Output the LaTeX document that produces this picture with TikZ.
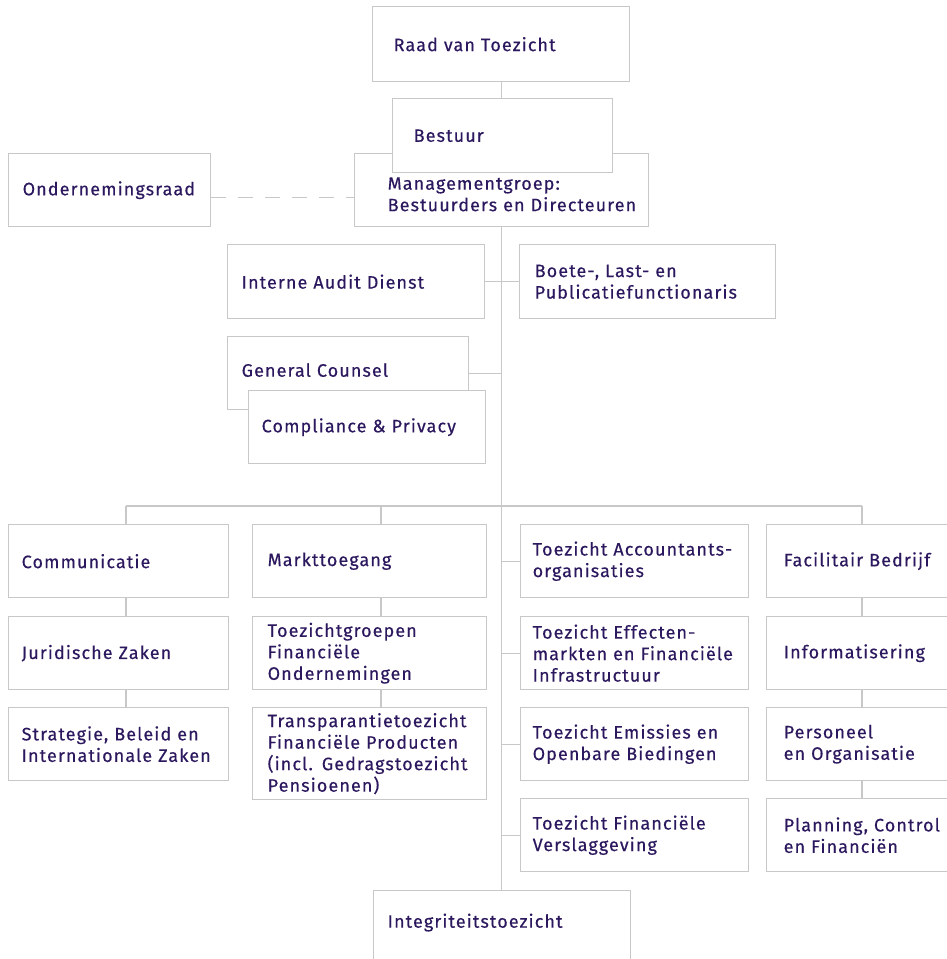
\documentclass[tikz,border=0pt]{standalone}
\usepackage{fontspec}
\setmainfont{Fira Sans}[LetterSpace=6, FakeBold=0.3]
\definecolor{afmpurple}{RGB}{44,24,94}
\definecolor{afmgray}{RGB}{200,200,200}

\begin{document}
\begin{tikzpicture}[x=1pt, y=-1pt,
  box/.style 2 args={draw=afmgray, line width=1.4pt, fill=white, text=afmpurple,
    anchor=north west, align=left, inner ysep=0pt, minimum height=73pt,
    text width=#1-2*#2, inner xsep=#2, font=\fontsize{18}{21.5}\selectfont,
    execute at begin node={\rightskip=-40pt plus 1fil}},
  link/.style={draw=afmgray, line width=1.4pt}]
\useasboundingbox (0,0) rectangle (947,959);
\clip (0,0) rectangle (947,959);

% top of the organisation
\node (raad) [box={257pt}{21pt}, minimum height=75pt] at (372,6) {Raad van Toezicht};
\node (mgmt) [box={294pt}{33pt}, text height=36pt, text depth=37pt] at (354,153) {Managementgroep:\\Bestuurders en Directeuren};
\node (bestuur) [box={220pt}{21pt}, minimum height=74pt] at (392,98) {Bestuur};
\node (or) [box={202pt}{14pt}] at (8,153) {Ondernemingsraad};

% staff
\node (audit) [box={257pt}{14pt}, minimum height=74pt] at (227,244) {Interne Audit Dienst};
\node (boete) [box={256pt}{15pt}, minimum height=74pt] at (519,244) {Boete-, Last- en\\Publicatiefunctionaris};
\node (counsel) [box={241pt}{14pt}, text height=40pt, text depth=33pt] at (227,336) {General Counsel};
\node (compl) [box={237pt}{13pt}] at (248,390) {Compliance \& Privacy};

% columns
\node (comm) [box={220pt}{13pt}] at (8,524) {Communicatie};
\node (jur) [box={220pt}{13pt}] at (8,616) {Juridische Zaken};
\node (strat) [box={220pt}{13pt}] at (8,707) {Strategie, Beleid en\\Internationale Zaken};

\node (markt) [box={234pt}{15pt}] at (252,524) {Markttoegang};
\node (tfo) [box={234pt}{15pt}] at (252,616) {Toezichtgroepen\\Financiële\\Ondernemingen};
\node (tfp) [box={234pt}{15pt}, minimum height=92pt] at (252,707) {Transparantietoezicht\\Financiële Producten\\(incl. Gedragstoezicht\\Pensioenen)};

\node (tao) [box={228pt}{12pt}] at (520,524) {Toezicht Accountants-\\organisaties};
\node (tef) [box={228pt}{12pt}] at (520,616) {Toezicht Effecten-\\markten en Financiële\\Infrastructuur};
\node (teo) [box={228pt}{12pt}] at (520,707) {Toezicht Emissies en\\Openbare Biedingen};
\node (tfv) [box={228pt}{12pt}] at (520,798) {Toezicht Financiële\\Verslaggeving};

\node (fac) [box={232pt}{17pt}] at (766,524) {Facilitair Bedrijf};
\node (info) [box={232pt}{17pt}] at (766,616) {Informatisering};
\node (po) [box={232pt}{17pt}] at (766,707) {Personeel\\en Organisatie};
\node (pcf) [box={232pt}{17pt}] at (766,798) {Planning, Control\\en Financiën};

\node (integr) [box={257pt}{14pt}, text height=37pt, text depth=36pt] at (373,890) {Integriteitstoezicht};

\coordinate (busA) at (126,506);
\coordinate (busB) at (381,506);
\coordinate (busD) at (862,506);

\draw [link] (raad.south) -- (raad.south |- bestuur.north);
\draw [link] (mgmt.south) -- (mgmt.south |- integr.north);
\draw [link, dash pattern=on 15pt off 12pt] ([yshift=-7.5pt]or.east) -- ([yshift=-7.5pt]or.east -| mgmt.west);
\draw [link] (audit.east) -- (boete.west);
\draw [link] (counsel.east) -- (counsel.east -| mgmt.south);

\draw [link] (busA) -- (busD);
\draw [link] (busA) -- (busA |- comm.north);
\draw [link] (busB) -- (busB |- markt.north);
\draw [link] (busD) -- (busD |- fac.north);

\draw [link] (comm.south -| busA) -- (jur.north -| busA);
\draw [link] (jur.south -| busA) -- (strat.north -| busA);
\draw [link] (markt.south -| busB) -- (tfo.north -| busB);
\draw [link] (tfo.south -| busB) -- (tfp.north -| busB);
\draw [link] (fac.south -| busD) -- (info.north -| busD);
\draw [link] (info.south -| busD) -- (po.north -| busD);
\draw [link] (po.south -| busD) -- (pcf.north -| busD);

\draw [link] (tao.west -| mgmt.south) -- (tao.west);
\draw [link] (tef.west -| mgmt.south) -- (tef.west);
\draw [link] (teo.west -| mgmt.south) -- (teo.west);
\draw [link] (tfv.west -| mgmt.south) -- (tfv.west);
\end{tikzpicture}
\end{document}
